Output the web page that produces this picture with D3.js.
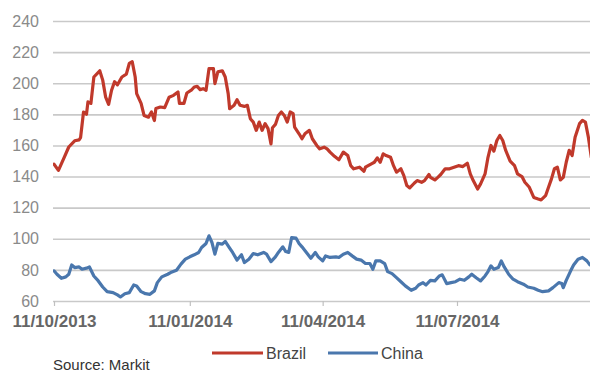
<!DOCTYPE html>
<html><head><meta charset="utf-8">
<script src="https://cdn.jsdelivr.net/npm/d3@7"></script>
<style>html,body{margin:0;padding:0;background:#fff;} svg{display:block;}</style>
</head><body><svg id="chart" width="590" height="374"></svg>
<script>
const brazilDates = ["2013-10-11","2013-10-14","2013-10-18","2013-10-21","2013-10-25","2013-10-28","2013-10-29","2013-10-31","2013-11-02","2013-11-03","2013-11-05","2013-11-07","2013-11-11","2013-11-13","2013-11-15","2013-11-17","2013-11-19","2013-11-21","2013-11-23","2013-11-26","2013-11-29","2013-12-01","2013-12-03","2013-12-05","2013-12-06","2013-12-09","2013-12-11","2013-12-14","2013-12-16","2013-12-18","2013-12-19","2013-12-22","2013-12-25","2013-12-28","2013-12-31","2014-01-03","2014-01-04","2014-01-07","2014-01-09","2014-01-12","2014-01-14","2014-01-16","2014-01-18","2014-01-20","2014-01-22","2014-01-24","2014-01-27","2014-01-28","2014-01-30","2014-02-02","2014-02-04","2014-02-06","2014-02-07","2014-02-10","2014-02-12","2014-02-14","2014-02-17","2014-02-19","2014-02-21","2014-02-23","2014-02-25","2014-02-27","2014-03-01","2014-03-03","2014-03-05","2014-03-07","2014-03-08","2014-03-10","2014-03-12","2014-03-14","2014-03-16","2014-03-18","2014-03-20","2014-03-22","2014-03-23","2014-03-26","2014-03-28","2014-03-30","2014-04-02","2014-04-04","2014-04-07","2014-04-09","2014-04-12","2014-04-14","2014-04-16","2014-04-19","2014-04-22","2014-04-25","2014-04-28","2014-04-30","2014-05-02","2014-05-06","2014-05-09","2014-05-10","2014-05-14","2014-05-16","2014-05-18","2014-05-20","2014-05-22","2014-05-24","2014-05-27","2014-05-29","2014-05-31","2014-06-03","2014-06-05","2014-06-07","2014-06-09","2014-06-12","2014-06-14","2014-06-17","2014-06-19","2014-06-22","2014-06-23","2014-06-26","2014-06-28","2014-06-30","2014-07-03","2014-07-06","2014-07-09","2014-07-12","2014-07-15","2014-07-18","2014-07-20","2014-07-22","2014-07-25","2014-07-27","2014-07-30","2014-08-01","2014-08-03","2014-08-05","2014-08-07","2014-08-09","2014-08-11","2014-08-13","2014-08-16","2014-08-19","2014-08-21","2014-08-24","2014-08-26","2014-08-29","2014-09-01","2014-09-04","2014-09-06","2014-09-09","2014-09-11","2014-09-13","2014-09-15","2014-09-17","2014-09-19","2014-09-21","2014-09-23","2014-09-25","2014-09-27","2014-09-29","2014-10-02","2014-10-04","2014-10-06","2014-10-08","2014-10-10"];
const brazilValues = [148,144,152.5,159,163,163.6,165,181.5,180,188,187,204,208,202,191,186.4,195.5,201,199,204,205.8,212.7,213.8,204,193.3,187,179.3,178.2,181.5,176,183.7,184.7,184.3,191,192.2,194.4,187,187,193.7,195.5,197.6,198,195.9,196.5,195.5,209.4,209.4,199.8,207.3,208,204,193.3,183.6,185.8,189.4,185.8,185.1,185.8,177.2,175,169.7,175,169.7,174,170.8,161,171.4,173.5,179.3,181.5,179.3,175,181.5,180.4,171.8,167.5,164.3,167.5,169.7,164.3,160,157.8,158.9,157.8,155.7,153,150.8,155.7,153.5,147,145,146,143.4,146,148.2,149.2,152,149.2,154.6,153.5,152.4,147,142.8,145,140.6,134.2,132.7,135.7,137.4,136.3,137.4,141.3,139.5,137.8,139.5,141.3,145,145,146,147,146.4,148.6,141.7,137.4,132,135.3,141.7,152.4,160,156.3,163.2,166.4,163.2,156.8,149.9,147,141.7,140,136.3,133.1,126.6,125.6,125,127.7,133.1,138.5,145,146,137.8,139.5,149.2,156.8,153.5,165.3,174,176.1,175,165.3,152.4];
const chinaDates = ["2013-10-11","2013-10-13","2013-10-16","2013-10-19","2013-10-21","2013-10-23","2013-10-25","2013-10-28","2013-10-30","2013-11-02","2013-11-04","2013-11-07","2013-11-10","2013-11-13","2013-11-16","2013-11-20","2013-11-23","2013-11-25","2013-11-28","2013-12-01","2013-12-04","2013-12-06","2013-12-09","2013-12-12","2013-12-15","2013-12-18","2013-12-20","2013-12-23","2013-12-27","2013-12-29","2014-01-02","2014-01-05","2014-01-08","2014-01-11","2014-01-14","2014-01-17","2014-01-19","2014-01-22","2014-01-24","2014-01-26","2014-01-28","2014-01-30","2014-02-02","2014-02-04","2014-02-07","2014-02-09","2014-02-12","2014-02-15","2014-02-17","2014-02-20","2014-02-23","2014-02-26","2014-03-02","2014-03-04","2014-03-07","2014-03-10","2014-03-12","2014-03-15","2014-03-17","2014-03-19","2014-03-21","2014-03-24","2014-03-26","2014-03-28","2014-03-31","2014-04-03","2014-04-06","2014-04-08","2014-04-11","2014-04-13","2014-04-16","2014-04-20","2014-04-22","2014-04-25","2014-04-28","2014-05-01","2014-05-04","2014-05-07","2014-05-10","2014-05-13","2014-05-15","2014-05-17","2014-05-20","2014-05-23","2014-05-25","2014-05-28","2014-05-31","2014-06-03","2014-06-06","2014-06-10","2014-06-13","2014-06-15","2014-06-18","2014-06-20","2014-06-23","2014-06-26","2014-06-29","2014-07-01","2014-07-04","2014-07-07","2014-07-10","2014-07-13","2014-07-16","2014-07-19","2014-07-21","2014-07-24","2014-07-27","2014-07-30","2014-08-01","2014-08-03","2014-08-05","2014-08-08","2014-08-10","2014-08-12","2014-08-15","2014-08-18","2014-08-21","2014-08-25","2014-08-28","2014-09-01","2014-09-04","2014-09-07","2014-09-11","2014-09-14","2014-09-18","2014-09-20","2014-09-21","2014-09-23","2014-09-26","2014-09-28","2014-10-01","2014-10-04","2014-10-07","2014-10-09"];
const chinaValues = [79.4,77.2,74.6,75.5,77.2,83.2,81.5,81.9,80.4,81.1,81.9,76.1,72.9,69,66,65.4,63.9,62.6,64.7,65.4,70.3,69.7,66,64.7,64.3,66.5,71.8,75.5,77.2,78.3,79.8,83.7,86.9,88.4,89.7,91.2,94.4,97,101.9,97.6,90.1,97,96.6,98.3,94,91.2,86.3,89.7,84.7,86.9,90.5,89.7,91.2,90.1,85.3,88.4,91.2,94.8,91.8,91.2,100.8,100.4,97,94.8,91.2,87.5,91.2,88.4,85.8,89,88,88.4,88,90.1,91.2,89,86.9,86.3,84.1,84.1,80.4,85.8,85.8,84.1,78.9,77.6,75,72.4,69.7,66.9,68.2,70.3,71.8,70.3,73.3,72.9,76.1,76.8,71.2,71.8,72.4,74,73.3,75.5,77.2,75,72.9,76.1,78.9,82.6,80.4,81.5,85.8,81.9,77.2,74,72.4,70.8,69,68.2,66.9,66,66.5,68.6,71.8,71.2,68.6,73.3,79.4,83.2,86.9,88,85.8,83.2];
const yTicks = [60,80,100,120,140,160,180,200,220,240];
const xTickDates = ["2013-10-11","2014-01-11","2014-04-11","2014-07-11"];
const xTickLabels = ["11/10/2013","11/01/2014","11/04/2014","11/07/2014"];
const seriesNames = ["Brazil","China"];
const seriesColors = ["#c0392b","#4a77ad"];
const sourceText = "Source: Markit";

const parse = d3.timeParse("%Y-%m-%d");
const svg = d3.select("#chart");
const plotLeft = 53, plotRight = 590, plotTop = 21, plotBottom = 301;

const x = d3.scaleTime().domain([parse("2013-10-11"), parse("2014-10-11")]).range([54, 592.8]);
const y = d3.scaleLinear().domain([60, 240]).range([plotBottom, plotTop]);

const yAxis = d3.axisLeft(y).tickValues(yTicks).tickSize(-(plotRight - plotLeft)).tickPadding(14);
const gy = svg.append("g").attr("transform", `translate(${plotLeft},0)`).call(yAxis);
gy.select(".domain").remove();
gy.selectAll(".tick line").attr("stroke", "#c9c9c9").attr("stroke-width", 1.6);
gy.selectAll(".tick text").attr("fill", "#8a8a8a").style("font-family", "'Liberation Sans', Arial, sans-serif").style("font-size", "16px");

const xAxis = d3.axisBottom(x).tickValues(xTickDates.map(parse)).tickFormat((d, i) => xTickLabels[i]).tickSize(5).tickPadding(9);
const gx = svg.append("g").attr("transform", `translate(0,${plotBottom})`).call(xAxis);
gx.select(".domain").remove();
gx.selectAll(".tick line").attr("stroke", "#c0c0c0").attr("stroke-width", 1.2);
gx.selectAll(".tick text").attr("fill", "#666").style("font-family", "'Liberation Sans', Arial, sans-serif").style("font-size", "17px").style("font-weight", "bold");

svg.append("clipPath").attr("id", "clip").append("rect").attr("x", plotLeft).attr("y", 0).attr("width", plotRight - plotLeft).attr("height", 320);

const line = d3.line().x(d => x(d[0])).y(d => y(d[1])).curve(d3.curveLinear);
const series = [
  brazilDates.map((d, i) => [parse(d), brazilValues[i]]),
  chinaDates.map((d, i) => [parse(d), chinaValues[i]])
];
series.forEach((s, i) => {
  svg.append("path").datum(s).attr("d", line).attr("fill", "none")
    .attr("stroke", seriesColors[i]).attr("stroke-width", 3.2)
    .attr("stroke-linejoin", "round").attr("stroke-linecap", "round")
    .attr("clip-path", "url(#clip)");
});

const legendPos = [[212, 263, 266], [328, 378, 381]];
seriesNames.forEach((n, i) => {
  const [x1, x2, tx] = legendPos[i];
  svg.append("line").attr("x1", x1).attr("x2", x2).attr("y1", 353).attr("y2", 353)
    .attr("stroke", seriesColors[i]).attr("stroke-width", 3);
  svg.append("text").attr("x", tx).attr("y", 353).attr("dy", "0.35em").text(n)
    .attr("fill", "#444").style("font-family", "'Liberation Sans', Arial, sans-serif").style("font-size", "16px");
});

svg.append("text").attr("x", 53).attr("y", 365).attr("dy", "0.35em").text(sourceText)
  .attr("fill", "#333").style("font-family", "'Liberation Sans', Arial, sans-serif").style("font-size", "15px");
</script>
</body></html>
